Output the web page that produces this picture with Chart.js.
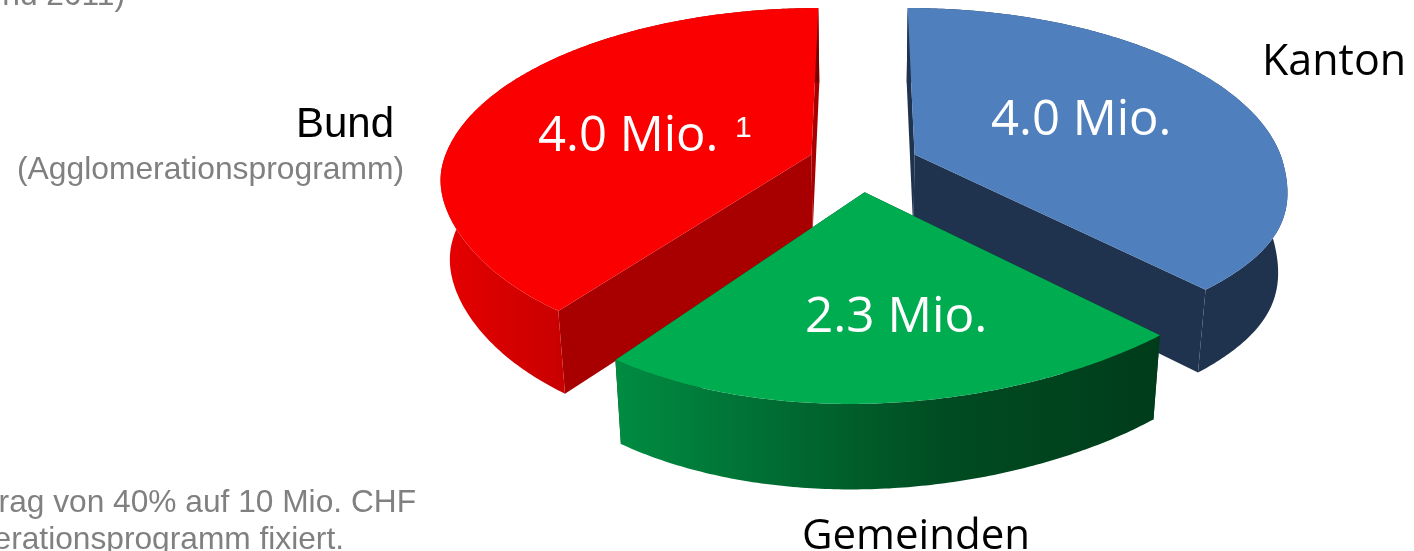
<!DOCTYPE html>
<html><head><meta charset="utf-8">
<style>html,body{margin:0;padding:0;background:#fff;overflow:hidden}canvas{display:block}</style>
<script src="https://cdn.jsdelivr.net/npm/chart.js@4"></script>
</head><body><canvas id="c" width="1414" height="551"></canvas>
<script>
const categories = ['Kanton','Gemeinden','Bund'];
const values = [4.0,2.3,4.0];
const valueLabels = ['4.0 Mio.','2.3 Mio.','4.0 Mio.'];
const topColors = ['#4f7fbd','#00ac50','#fb0000'];
const edgeColors = ['#1f334f','#003f1c','#a80000'];
const wallLeft = ['#1f334f','#008c42','#e60000'];
const wallMid = ['#1f334f','#004c22','#b00000'];
const wallRight = ['#1f334f','#003c1a','#7a0000'];
const drawOrder = [0,2,1];

// projection of the flat pie onto the tilted, exploded view
const view = {cx:863,cy:164,A:369,B:172,k:0.155,ex:0.15,ey:0.16,drop:79,dropPow:0.4,shrink:0.978,q:66,c:1.5,t:37.5,c2:0.8,v:2.5,n:0.028};

function project(a, r, mid, low){
  const th=a+Math.PI/2, m=mid+Math.PI/2;
  const X=r*Math.sin(th)+view.ex*Math.sin(m), Y=r*Math.cos(th)+view.ey*Math.cos(m);
  const w=1+view.k*Y;
  let sx=view.A*X/w, sy=-view.B*Y/w;
  if(Y<0){
    const y2=Y*Y;
    sx=sx*(1-view.n*y2*y2)+view.q*y2/(1+view.c*y2);
    sy+=-view.t*X*y2/(1+view.c2*y2)-view.v*y2*y2;
  }
  if(low){ sx*=view.shrink; sy+=view.drop/Math.pow(w,view.dropPow); }
  return [view.cx+sx, view.cy+sy];
}
function poly(ctx,pts,fill){
  ctx.beginPath();
  pts.forEach((p,i)=>i?ctx.lineTo(p[0],p[1]):ctx.moveTo(p[0],p[1]));
  ctx.closePath();
  ctx.fillStyle=fill; ctx.fill();
}
const pie3d = {
  id:'pie3d',
  beforeDatasetDraw(chart,args){
    const ctx=chart.ctx, arcs=chart.getDatasetMeta(args.index).data;
    drawOrder.forEach(i=>{
      const s=arcs[i].startAngle, e=arcs[i].endAngle, mid=(s+e)/2, n=Math.ceil((e-s)*90);
      const angs=[]; for(let j=0;j<=n;j++) angs.push(s+(e-s)*j/n);
      const apexT=project(0,0,mid,false), apexB=project(0,0,mid,true);
      poly(ctx,[apexT,project(s,1,mid,false),project(s,1,mid,true),apexB],edgeColors[i]);
      poly(ctx,[apexT,project(e,1,mid,false),project(e,1,mid,true),apexB],edgeColors[i]);
      const upper=angs.map(a=>project(a,1,mid,false)), lower=angs.map(a=>project(a,1,mid,true));
      const xs=upper.map(p=>p[0]);
      const g=ctx.createLinearGradient(Math.min(...xs),0,Math.max(...xs),0);
      g.addColorStop(0,wallLeft[i]); g.addColorStop(0.6,wallMid[i]); g.addColorStop(1,wallRight[i]);
      poly(ctx,upper.concat(lower.slice().reverse()),g);
      poly(ctx,[apexT].concat(upper),topColors[i]);
    });
    return false;
  }
};
const T=(ctx,s,x,y,font,color,align)=>{ctx.font=font;ctx.fillStyle=color;ctx.textAlign=align||'left';ctx.textBaseline='alphabetic';ctx.fillText(s,x,y);};
const labels3d = {
  id:'labels3d',
  afterDraw(chart){
    const ctx=chart.ctx, noto='"Open Sans"', lib='"Liberation Sans"';
    ctx.save();
    T(ctx,categories[0],1262,75,`43px ${noto}`,'#000');
    T(ctx,categories[1],802,549,`42px ${noto}`,'#000');
    T(ctx,categories[2],296,137,`42px ${lib}`,'#000');
    T(ctx,'(Agglomerationsprogramm)',17,179,`31.8px ${lib}`,'#808080');
    T(ctx,valueLabels[0],991,135,`49px ${noto}`,'#fff');
    T(ctx,valueLabels[1],805,332,`49.5px ${noto}`,'#fff');
    T(ctx,valueLabels[2],538,151,`49px ${noto}`,'#fff');
    T(ctx,'1',735,137,`30px ${lib}`,'#fff');
    T(ctx,'nd 2011)',125,5,`31.7px ${lib}`,'#808080','right');
    T(ctx,'rag von 40% auf 10 Mio. CHF',416,512,`31.7px ${lib}`,'#808080','right');
    T(ctx,'erationsprogramm fixiert.',344,549,`31.7px ${lib}`,'#808080','right');
    ctx.restore();
  }
};
new Chart(document.getElementById('c'),{
  type:'pie',
  data:{labels:categories,datasets:[{data:values,backgroundColor:topColors,borderWidth:0}]},
  options:{responsive:false,animation:false,events:[],
    plugins:{legend:{display:false},tooltip:{enabled:false}}},
  plugins:[pie3d,labels3d]
});
</script></body></html>
